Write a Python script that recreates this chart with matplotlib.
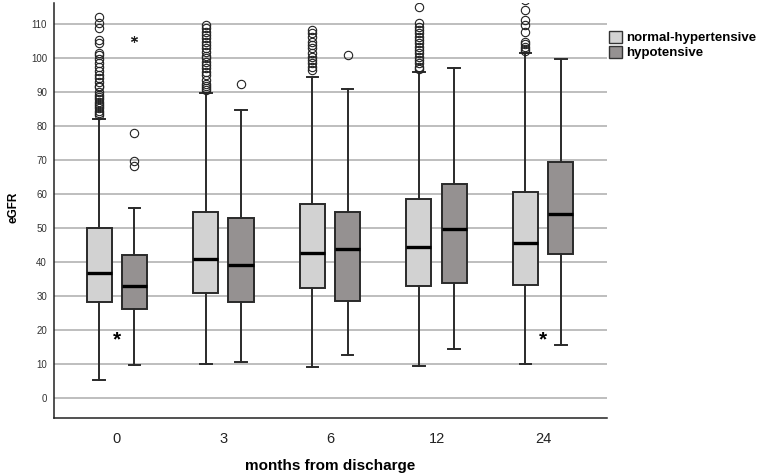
import matplotlib.pyplot as plt
from matplotlib.patches import Patch
import numpy as np

plt.rcParams['font.family'] = ['Liberation Sans', 'DejaVu Sans']

months = ['0', '3', '6', '12', '24']
series_names = ['normal-hypertensive', 'hypotensive']

# normal-hypertensive
norm_whislo = [5.3, 9.9, 9.0, 9.3, 10.1]
norm_q1 = [28.3, 31.0, 32.3, 32.9, 33.2]
norm_med = [36.9, 41.0, 42.7, 44.3, 45.5]
norm_q3 = [49.9, 54.6, 57.2, 58.4, 60.5]
norm_whishi = [82.1, 89.8, 94.5, 96.0, 101.6]
norm_outliers = [
    [112.2, 110.4, 108.7, 105.3, 104.5, 101.6, 100.9, 99.6, 98.4, 97.4, 96.3,
     95.0, 94.0, 93.0, 91.8, 91.4, 90.1, 89.1, 88.6, 87.9, 87.1, 86.5, 85.9,
     85.2, 84.5, 83.7, 83.2],
    [109.7, 108.8, 107.6, 106.7, 105.9, 104.8, 103.7, 102.9, 101.8, 100.7,
     99.9, 98.8, 97.9, 97.0, 95.8, 94.9, 93.6, 92.5, 91.8, 91.2, 90.6],
    [108.4, 107.3, 106.1, 104.8, 103.8, 102.9, 101.4, 100.4, 99.4, 98.4,
     97.4, 96.5],
    [114.9, 110.2, 109.2, 108.2, 107.3, 106.3, 105.3, 104.3, 103.3, 102.4,
     101.4, 100.4, 99.4, 98.5, 97.5, 96.7],
    [117.0, 114.2, 111.2, 109.7, 107.7, 104.8, 104.0, 103.3, 102.6, 102.1],
]

# hypotensive
hypo_whislo = [9.7, 10.5, 12.7, 14.4, 15.7]
hypo_q1 = [26.3, 28.3, 28.6, 33.9, 42.3]
hypo_med = [32.9, 39.0, 43.7, 49.8, 54.2]
hypo_q3 = [42.0, 52.8, 54.6, 62.8, 69.5]
hypo_whishi = [56.0, 84.7, 91.0, 97.2, 99.6]
hypo_outliers = [[68.2, 69.6, 78.0], [92.4], [101.0], [], []]
hypo_extremes = [[105.6], [], [], [], []]

sig_groups = [0, 4]
sig_value = 17

light = '#d2d2d2'
dark = '#959191'
edge = '#2a2a2a'


def make_stats(lo, q1, med, q3, hi, fl):
    return [dict(whislo=lo[i], q1=q1[i], med=med[i], q3=q3[i], whishi=hi[i],
                 fliers=fl[i]) for i in range(len(lo))]


fig = plt.figure(figsize=(7.58, 4.76), dpi=100)
ax = fig.add_axes([54 / 758, 1 - 418 / 476, 553 / 758, 415 / 476])

for y in range(0, 111, 10):
    ax.axhline(y, color='#b9b9b9', lw=1.3, zorder=0)

x = np.arange(len(months))
off = 0.165
w = 0.235
common = dict(widths=w, patch_artist=True, manage_ticks=False,
              whiskerprops=dict(color=edge, lw=1.4),
              capprops=dict(color=edge, lw=1.4),
              medianprops=dict(color='black', lw=2.4),
              flierprops=dict(marker='o', markersize=6, markerfacecolor='none',
                              markeredgecolor='#222222', markeredgewidth=0.8))

b1 = ax.bxp(make_stats(norm_whislo, norm_q1, norm_med, norm_q3, norm_whishi, norm_outliers),
            positions=x - off, **common)
b2 = ax.bxp(make_stats(hypo_whislo, hypo_q1, hypo_med, hypo_q3, hypo_whishi, hypo_outliers),
            positions=x + off, **common)
for b, c in ((b1, light), (b2, dark)):
    for p in b['boxes']:
        p.set_facecolor(c)
        p.set_edgecolor(edge)
        p.set_linewidth(1.4)
    for cap in b['caps']:
        xd = cap.get_xdata()
        m = (xd[0] + xd[1]) / 2
        cap.set_xdata([m - 0.055, m + 0.055])

for i, ex in enumerate(hypo_extremes):
    if ex:
        ax.plot([x[i] + off] * len(ex), ex, ls='none', marker=(6, 2, 0),
                markersize=5, color='#222222', mew=0.8)

for g in sig_groups:
    ax.text(x[g], sig_value, '*', ha='center', va='center', fontsize=15,
            fontweight='bold')

ax.set_xlim(-0.59, 4.6)
ax.set_ylim(-5.9, 116.2)
ax.set_yticks(range(0, 111, 10))
ax.set_xticks(x)
ax.set_xticklabels(months, fontsize=10.5, color='#222222')
ax.tick_params(axis='y', length=0, pad=5, labelsize=7, labelcolor='#333333')
ax.tick_params(axis='x', length=0, pad=10)
for s in ('top', 'right'):
    ax.spines[s].set_visible(False)
for s in ('left', 'bottom'):
    ax.spines[s].set_color('#222222')
    ax.spines[s].set_linewidth(1.1)

xl = ax.set_xlabel('months from discharge', fontsize=11, fontweight='bold')
xl.set_va('center')
ax.xaxis.set_label_coords(0.5, (10 - 58) / 415)
yl = ax.set_ylabel('eGFR', fontsize=8.5, fontweight='bold')
yl.set_va('center')
ax.yaxis.set_label_coords((13 - 54) / 553, (269 - 58) / 415)

handles = [Patch(facecolor=light, edgecolor='#333333', lw=1.0),
           Patch(facecolor=dark, edgecolor='#333333', lw=1.0)]
fig.legend(handles, series_names, loc='upper left',
           bbox_to_anchor=(609 / 758, 1 - 31 / 476), frameon=False,
           prop=dict(size=9.5, weight='bold'), handlelength=1.0,
           handleheight=1.0, handletextpad=0.3, labelspacing=0.12,
           borderpad=0, borderaxespad=0)

fig.savefig('out.png', dpi=100)
